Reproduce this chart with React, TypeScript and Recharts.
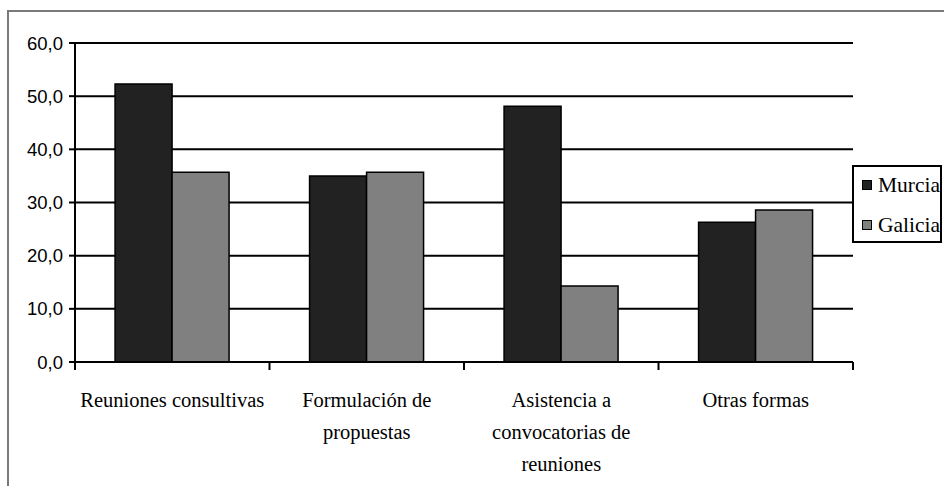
import { BarChart, Bar, XAxis, YAxis, CartesianGrid } from "recharts";

const categories = [
  "Reuniones consultivas",
  "Formulación de\npropuestas",
  "Asistencia a\nconvocatorias de\nreuniones",
  "Otras formas",
];
const murcia = [52.3, 35.0, 48.1, 26.3];
const galicia = [35.7, 35.7, 14.3, 28.6];
const yTicks = [0, 10, 20, 30, 40, 50, 60];

const SERIES = [
  { key: "murcia", name: "Murcia", fill: "#222222" },
  { key: "galicia", name: "Galicia", fill: "#808080" },
];

const data = categories.map((c, i) => ({ name: c, murcia: murcia[i], galicia: galicia[i] }));

const serif = "'Liberation Serif', 'Times New Roman', serif";
const sans = "'Liberation Sans', Arial, sans-serif";

// category label plus the tick marks that sit on the band edges
function CategoryTick(props: any) {
  const { x, y, payload, index } = props;
  const half = payload && payload.offset ? payload.offset : 97.25;
  const lines = String(payload.value).split("\n");
  const last = index === categories.length - 1;
  return (
    <g transform={`translate(${x},${y})`}>
      <line x1={-half} x2={-half} y1={0} y2={8} stroke="#000" strokeWidth={2} />
      {last && <line x1={half} x2={half} y1={0} y2={8} stroke="#000" strokeWidth={2} />}
      {lines.map((line: string, i: number) => (
        <text key={i} x={0} y={45 + i * 32} textAnchor="middle" fill="#000" fontFamily={serif} fontSize={20.5}>
          {line}
        </text>
      ))}
    </g>
  );
}

export default function App() {
  return (
    <div style={{ position: "relative", width: 944, height: 486, overflow: "hidden", background: "#fff" }}>
      <style>{"body{margin:0;overflow:hidden}"}</style>
      {/* outer frame, only top and left edges fall inside the crop */}
      <div
        style={{
          position: "absolute",
          left: 7,
          top: 10,
          width: 1000,
          height: 1000,
          border: "2px solid #7a7a7a",
        }}
      />
      <div style={{ position: "absolute", left: 0, top: 0 }}>
        <BarChart
          width={944}
          height={486}
          data={data}
          margin={{ top: 43, right: 91, bottom: 0, left: 0 }}
          barCategoryGap="20.6%"
          barGap={0}
        >
          <CartesianGrid vertical={false} stroke="#000" strokeWidth={2} />
          <XAxis
            dataKey="name"
            height={124}
            axisLine={{ stroke: "#000", strokeWidth: 2 }}
            tickLine={false}
            tickSize={0}
            tickMargin={0}
            interval={0}
            tick={<CategoryTick />}
          />
          <YAxis
            width={75}
            domain={[0, 60]}
            ticks={yTicks}
            interval={0}
            axisLine={{ stroke: "#000", strokeWidth: 2 }}
            tickLine={{ stroke: "#000", strokeWidth: 2 }}
            tickSize={6}
            tickMargin={6}
            tick={{ fill: "#000", fontFamily: sans, fontSize: 18.5 }}
            tickFormatter={(v: number) => v.toFixed(1).replace(".", ",")}
          />
          {SERIES.map((s) => (
            <Bar
              key={s.key}
              dataKey={s.key}
              name={s.name}
              fill={s.fill}
              stroke="#000"
              strokeWidth={1.5}
              isAnimationActive={false}
            />
          ))}
        </BarChart>
      </div>
      <div
        style={{
          position: "absolute",
          left: 852,
          top: 165,
          width: 86,
          height: 74,
          border: "2px solid #000",
          background: "#fff",
          fontFamily: serif,
          fontSize: 21.5,
          color: "#000",
        }}
      >
        {SERIES.map((s, i) => (
          <div key={s.key} style={{ position: "absolute", left: 8, top: 6 + i * 40, display: "flex", alignItems: "center", whiteSpace: "nowrap" }}>
            <span style={{ display: "inline-block", width: 8, height: 8, background: s.fill, border: "1px solid #000", marginRight: 6 }} />
            <span style={{ lineHeight: "24px" }}>{s.name}</span>
          </div>
        ))}
      </div>
    </div>
  );
}
